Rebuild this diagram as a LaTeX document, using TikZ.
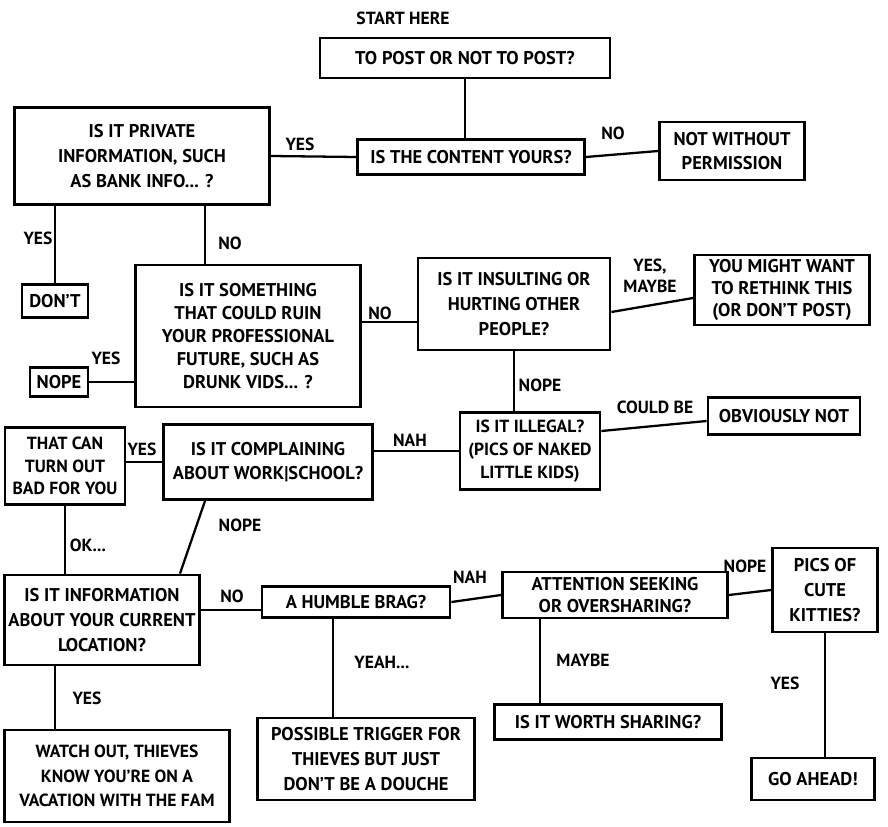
\documentclass[tikz,border=0pt]{standalone}
\usepackage{fontspec}
\setmainfont{PT Sans}
\usepackage{tikz}
\usetikzlibrary{positioning}

\begin{document}
\begin{tikzpicture}[x=0.02cm, y=-0.02cm,
  box/.style={draw, line width=1.6pt, align=center, inner sep=2pt, font=\bfseries\fontsize{10.5}{14}\selectfont},
  lbl/.style={align=center, inner sep=1pt, font=\bfseries\fontsize{10}{12}\selectfont},
  con/.style={line width=1.3pt}]
  \useasboundingbox (0,0) rectangle (888,827);
  % questions and answers
  \node[lbl] (start) at (403,18) {START HERE};
  \node[box, minimum width=5.8cm, minimum height=0.8cm] (post) at (465,58) {TO POST OR NOT TO POST?};
  \node[box, minimum width=4.54cm, minimum height=0.7cm] (yours) at (471,157) {IS THE CONTENT YOURS?};
  \node[box, minimum width=2.9cm, minimum height=1.16cm] (perm) at (732,151) {NOT WITHOUT\\PERMISSION};
  \node[box, minimum width=5.1cm, minimum height=1.94cm] (private) at (142,156) {IS IT PRIVATE\\INFORMATION, SUCH\\AS BANK INFO... ?};
  \node[box, minimum width=1.32cm, minimum height=0.66cm] (dont) at (55,301) {DON'T};
  \node[box, minimum width=4.5cm, minimum height=2.84cm, font=\bfseries\fontsize{10.5}{13}\selectfont] (ruin) at (248,336) {IS IT SOMETHING\\THAT COULD RUIN\\YOUR PROFESSIONAL\\FUTURE, SUCH AS\\DRUNK VIDS... ?};
  \node[box, minimum width=1.16cm, minimum height=0.58cm] (nope) at (59,382) {NOPE};
  \node[box, minimum width=3.84cm, minimum height=1.84cm] (insult) at (514,304) {IS IT INSULTING OR\\HURTING OTHER\\PEOPLE?};
  \node[box, minimum width=3.5cm, minimum height=1.4cm, font=\bfseries\fontsize{10.5}{12.5}\selectfont] (rethink) at (782,290) {YOU MIGHT WANT\\TO RETHINK THIS\\(OR DON'T POST)};
  \node[box, minimum width=2.8cm, minimum height=1.54cm, font=\bfseries\fontsize{10}{13}\selectfont] (illegal) at (530,451) {IS IT ILLEGAL?\\(PICS OF NAKED\\LITTLE KIDS)};
  \node[box, minimum width=3.04cm, minimum height=0.74cm] (obvious) at (784,416) {OBVIOUSLY NOT};
  \node[box, minimum width=2.4cm, minimum height=1.54cm, font=\bfseries\fontsize{10}{13}\selectfont] (bad) at (65,466) {THAT CAN\\TURN OUT\\BAD FOR YOU};
  \node[box, minimum width=4.18cm, minimum height=1.5cm] (complain) at (268,462) {IS IT COMPLAINING\\ABOUT WORK|SCHOOL?};
  \node[box, minimum width=3.9cm, minimum height=1.8cm] (location) at (102,620) {IS IT INFORMATION\\ABOUT YOUR CURRENT\\LOCATION?};
  \node[box, minimum width=3.76cm, minimum height=0.62cm] (brag) at (356,602) {A HUMBLE BRAG?};
  \node[box, minimum width=4.5cm, minimum height=0.92cm, font=\bfseries\fontsize{10.5}{12}\selectfont] (attention) at (615,595) {ATTENTION SEEKING\\OR OVERSHARING?};
  \node[box, minimum width=2.1cm, minimum height=1.68cm] (kitties) at (825,590) {PICS OF\\CUTE\\KITTIES?};
  \node[box, minimum width=4.5cm, minimum height=1.84cm, font=\bfseries\fontsize{10}{14}\selectfont] (watch) at (117,776) {WATCH OUT, THIEVES\\KNOW YOU'RE ON A\\VACATION WITH THE FAM};
  \node[box, minimum width=4.34cm, minimum height=1.64cm] (trigger) at (366,759) {POSSIBLE TRIGGER FOR\\THIEVES BUT JUST\\DON'T BE A DOUCHE};
  \node[box, minimum width=4.54cm, minimum height=0.7cm] (worth) at (608,722) {IS IT WORTH SHARING?};
  \node[box, minimum width=2.46cm, minimum height=0.84cm] (ahead) at (813,779) {GO AHEAD!};
  % connectors
  \draw[con] (post.south) -- (post.south |- yours.north);
  \draw[con] (yours.west) -- (private.east);
  \draw[con] (yours.east) -- (perm.west);
  \draw[con] (dont.north |- private.south) -- (dont.north);
  \draw[con] ([xshift=-0.86cm]ruin.north |- private.south) -- ([xshift=-0.86cm]ruin.north);
  \draw[con] ([yshift=-0.36cm]insult.west) -- ([yshift=-0.36cm]insult.west -| ruin.east);
  \draw[con] (nope.east) -- (nope.east -| ruin.west);
  \draw[con] ([yshift=-0.16cm]insult.east) -- ([yshift=-0.16cm]rethink.west);
  \draw[con] (insult.south) -- (insult.south |- illegal.north);
  \draw[con] ([yshift=0.4cm]illegal.east) -- ([yshift=-0.1cm]obvious.west);
  \draw[con] (illegal.west) -- (illegal.west -| complain.east);
  \draw[con] (complain.west) -- (complain.west -| bad.east);
  \draw[con] (bad.south) -- (bad.south |- location.north);
  \draw[con] ([xshift=-1.26cm]complain.south) -- ([xshift=1.56cm]location.north);
  \draw[con] ([yshift=-0.16cm]brag.west) -- ([yshift=-0.16cm]brag.west -| location.east);
  \draw[con] (brag.east) -- (attention.west);
  \draw[con] (attention.east) -- (kitties.west);
  \draw[con] ([xshift=-0.46cm]brag.south) -- ([xshift=-0.46cm]brag.south |- trigger.north);
  \draw[con] ([xshift=-1.5cm]attention.south) -- ([xshift=-1.5cm]attention.south |- worth.north);
  \draw[con] (kitties.south) -- (kitties.south |- ahead.north);
  \draw[con] ([xshift=-0.94cm]location.south) -- ([xshift=-0.94cm]location.south |- watch.north);
  % answers on the connectors
  \node[lbl] (yes1) at (300,144) {YES};
  \node[lbl] (no1) at (613,133) {NO};
  \node[lbl] (yes2) at (38,238) {YES};
  \node[lbl] (no2) at (230,243) {NO};
  \node[lbl] (no3) at (380,313) {NO};
  \node[lbl] (yes3) at (106,358) {YES};
  \node[lbl] (yesmaybe) at (650,276) {YES,\\MAYBE};
  \node[lbl] (nope1) at (540,385) {NOPE};
  \node[lbl] (could) at (655,407) {COULD BE};
  \node[lbl] (nah1) at (410,440) {NAH};
  \node[lbl] (yes4) at (142,449) {YES};
  \node[lbl] (ok) at (88,545) {OK...};
  \node[lbl] (nope2) at (240,525) {NOPE};
  \node[lbl] (no4) at (232,596) {NO};
  \node[lbl] (nah2) at (470,577) {NAH};
  \node[lbl] (nope3) at (745,566) {NOPE};
  \node[lbl] (yeah) at (382,662) {YEAH...};
  \node[lbl] (maybe) at (583,660) {MAYBE};
  \node[lbl] (yes5) at (785,683) {YES};
  \node[lbl] (yes6) at (87,698) {YES};
\end{tikzpicture}
\end{document}
